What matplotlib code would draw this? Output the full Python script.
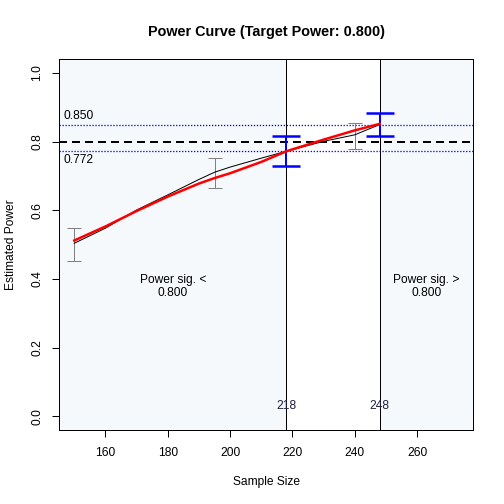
import matplotlib
matplotlib.use("Agg")
import matplotlib.pyplot as plt

# power values
curve_n = [150, 160, 170, 180, 190, 195, 200, 210, 218, 230, 240, 248]
curve_power = [0.504, 0.548, 0.601, 0.645, 0.690, 0.711, 0.726, 0.752, 0.772, 0.801, 0.820, 0.850]
fit_power = [0.512, 0.553, 0.598, 0.640, 0.678, 0.694, 0.708, 0.741, 0.772, 0.806, 0.833, 0.852]

sim_n = [150, 195, 240]
sim_lo = [0.452, 0.665, 0.779]
sim_hi = [0.548, 0.751, 0.853]

cut_n = [218, 248]
cut_lo = [0.730, 0.816]
cut_hi = [0.816, 0.885]
cut_power = [0.772, 0.850]

target = 0.80
x_lim = (145.2, 278.0)

plt.rcParams['font.family'] = ['Liberation Sans', 'DejaVu Sans']
fig = plt.figure(figsize=(7, 7), dpi=72)
ax = fig.add_axes([59.3/504, 74/504, 414/504, 370.7/504])

# shaded regions outside the crossing interval
shade = "#F6F9FB"
ax.axvspan(x_lim[0], cut_n[0], color=shade, zorder=0, lw=0)
ax.axvspan(cut_n[1], x_lim[1], color=shade, zorder=0, lw=0)

for n in cut_n:
    ax.axvline(n, color="black", lw=1)
    ax.text(n, 0.03, str(n), ha="center", va="center", fontsize=12, color="#202040")

ax.axhline(target, color="black", lw=2, ls=(0, (4, 2.5)))
for p in cut_power:
    ax.axhline(p, color="#0000FF", lw=1.3, ls=(0, (1.0, 1.3)), dash_capstyle="butt")
ax.text(146.5, cut_power[1] + 0.008, "%.3f" % cut_power[1], ha="left", va="bottom", fontsize=12)
ax.text(146.5, cut_power[0] - 0.008, "%.3f" % cut_power[0], ha="left", va="top", fontsize=12)

ax.errorbar(sim_n, [(a + b) / 2 for a, b in zip(sim_lo, sim_hi)],
            yerr=[[(b - a) / 2 for a, b in zip(sim_lo, sim_hi)]] * 2,
            fmt="none", ecolor="gray", elinewidth=1, capsize=7, capthick=1)
ax.errorbar(cut_n, [(a + b) / 2 for a, b in zip(cut_lo, cut_hi)],
            yerr=[[(b - a) / 2 for a, b in zip(cut_lo, cut_hi)]] * 2,
            fmt="none", ecolor="blue", elinewidth=2, capsize=14, capthick=2.5)

ax.plot(curve_n, curve_power, color="black", lw=1)
ax.plot(curve_n, fit_power, color="red", lw=2.5)

ax.text((x_lim[0] + cut_n[0]) / 2, 0.377, "Power sig. <\n%.3f" % target,
        ha="center", va="center", fontsize=12, linespacing=1.1)
ax.text((cut_n[1] + x_lim[1]) / 2, 0.377, "Power sig. >\n%.3f" % target,
        ha="center", va="center", fontsize=12, linespacing=1.1)

ax.set_xlim(*x_lim)
ax.set_ylim(-0.04, 1.04)
ax.set_xticks([160, 180, 200, 220, 240, 260])
ax.set_yticks([0.0, 0.2, 0.4, 0.6, 0.8, 1.0])
ax.set_yticklabels(["0.0", "0.2", "0.4", "0.6", "0.8", "1.0"], rotation=90, va="center")
ax.tick_params(axis="x", length=7, width=1, labelsize=12, pad=10)
ax.tick_params(axis="y", length=7, width=1, labelsize=12, pad=9)
for s in ax.spines.values():
    s.set_linewidth(1)

ax.set_xlabel("Sample Size", fontsize=12, labelpad=17)
ax.set_ylabel("Estimated Power", fontsize=12, labelpad=14)
ax.set_title("Power Curve (Target Power: 0.800)", fontsize=14.4, fontweight="bold", pad=23)

fig.savefig("out.png", dpi=72)
